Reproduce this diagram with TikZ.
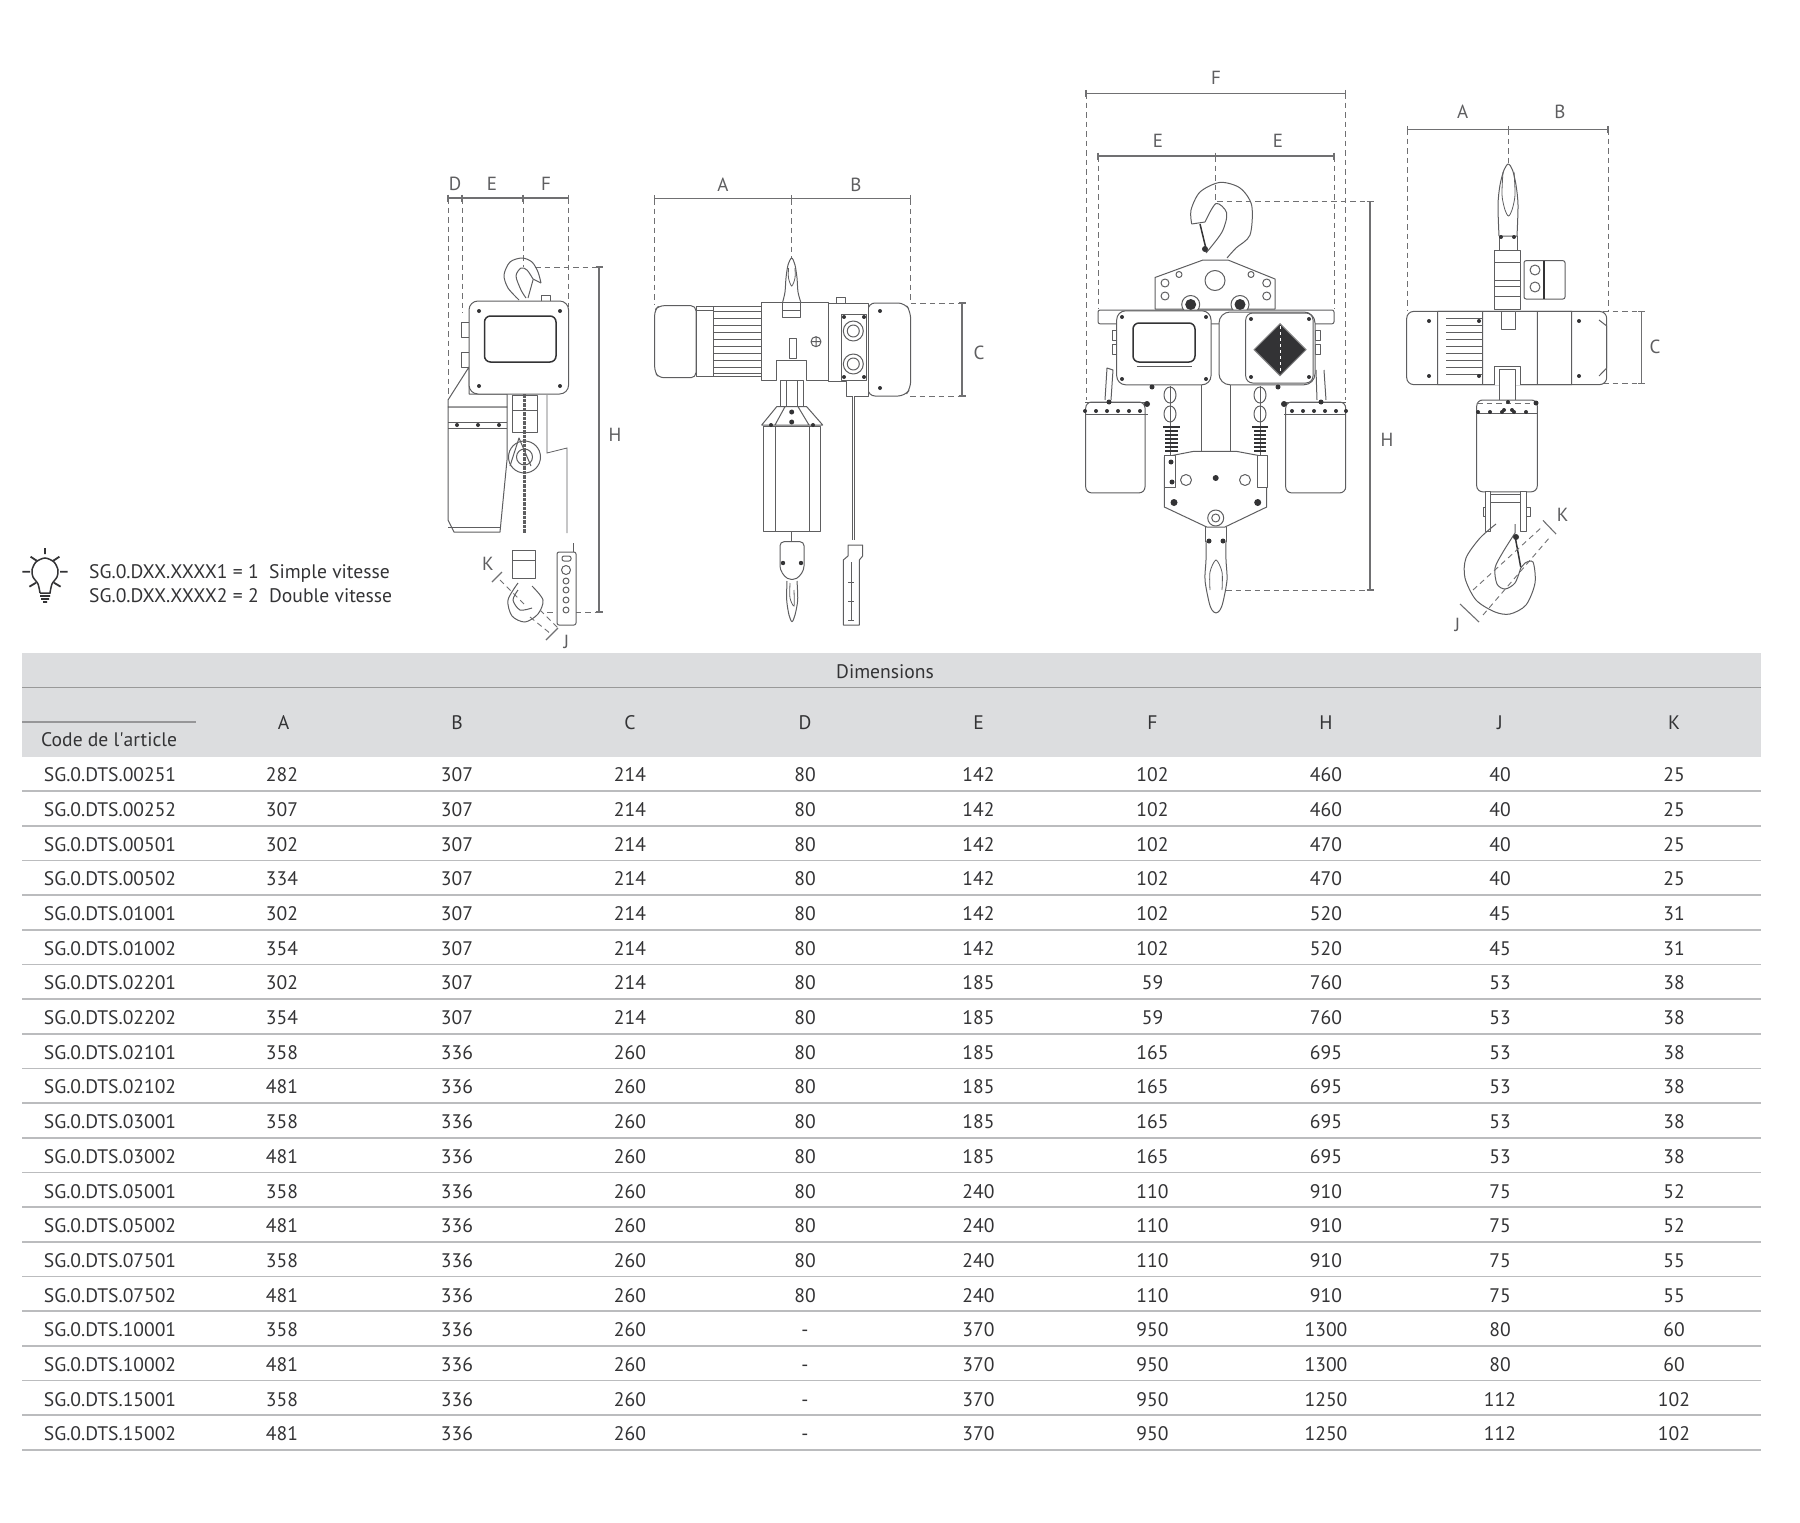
\documentclass[tikz,border=0pt]{standalone}
\usepackage{fontspec}
\setmainfont{PT Sans}
\definecolor{headgray}{HTML}{DCDDDF}
\definecolor{rulegray}{HTML}{BBBCBE}
\definecolor{inkgray}{HTML}{5E5E60}
\definecolor{dimgray}{HTML}{707072}
\definecolor{darkgray}{HTML}{333335}
\tikzset{
    cell/.style={text=darkgray, font=\fontsize{19.6}{23}\selectfont, inner sep=0pt, anchor=center, text height=13.6pt, text depth=0pt},
    codecell/.style={cell, anchor=west},
    dimlabel/.style={text=inkgray, font=\fontsize{19}{22}\selectfont, inner sep=0pt},
    rowrule/.style={draw=rulegray, line width=1.6pt},
    dimrule/.style={draw=dimgray, line width=1.3pt},
    dimdash/.style={draw=dimgray, line width=1pt, dash pattern=on 5.5pt off 4pt},
    hoist/.style={draw=inkgray, line width=1pt, line join=round, fill=white},
    hoistline/.style={draw=inkgray, line width=0.8pt},
    hoistbold/.style={draw=darkgray, line width=1.5pt, line join=round},
    bolt/.style={fill=darkgray}
}
\begin{document}
\begin{tikzpicture}[x=1pt, y=-1pt]
    \useasboundingbox (0,0) rectangle (1800,1523);

    %% header of the table
    \fill[headgray] (22,653) rectangle (1761,757);
    \draw[draw=gray!80, line width=1.2pt] (22,687.5)--(1761,687.5);
    \draw[draw=rulegray!80!black, line width=1.2pt] (22,722)--(196,722);
    \draw[rowrule]
    (22,791)--(1761,791) (22,825.7)--(1761,825.7) (22,860.4)--(1761,860.4) (22,895)--(1761,895)
    (22,929.7)--(1761,929.7) (22,964.4)--(1761,964.4) (22,999.1)--(1761,999.1) (22,1033.8)--(1761,1033.8)
    (22,1068.4)--(1761,1068.4) (22,1103.1)--(1761,1103.1) (22,1137.8)--(1761,1137.8) (22,1172.5)--(1761,1172.5)
    (22,1207.2)--(1761,1207.2) (22,1241.8)--(1761,1241.8) (22,1276.5)--(1761,1276.5) (22,1311.2)--(1761,1311.2)
    (22,1345.9)--(1761,1345.9) (22,1380.6)--(1761,1380.6) (22,1415.2)--(1761,1415.2) (22,1449.9)--(1761,1449.9);

    \path[yshift=1pt]
    (885,672.5)node[cell](dims){Dimensions}
    (41,741)node[codecell](code){Code de l\textquotesingle article}
    (283.5,724)node[cell](hA){A} (457,724)node[cell](hB){B} (630,724)node[cell](hC){C} (805,724)node[cell](hD){D} (978.5,724)node[cell](hE){E} (1152.5,724)node[cell](hF){F} (1326,724)node[cell](hH){H} (1500,724)node[cell](hJ){J} (1674,724)node[cell](hK){K}

    %% rows
    (43.7,776)node[codecell](c1){SG.0.DTS.00251} (282,776)node[cell](a1){282} (457,776)node[cell](b1){307} (630,776)node[cell](d1){214} (805,776)node[cell](e1){80} (978.5,776)node[cell](f1){142} (1152.5,776)node[cell](g1){102} (1326,776)node[cell](h1){460} (1500,776)node[cell](j1){40} (1674,776)node[cell](k1){25}
    (43.7,810.7)node[codecell](c2){SG.0.DTS.00252} (282,810.7)node[cell](a2){307} (457,810.7)node[cell](b2){307} (630,810.7)node[cell](d2){214} (805,810.7)node[cell](e2){80} (978.5,810.7)node[cell](f2){142} (1152.5,810.7)node[cell](g2){102} (1326,810.7)node[cell](h2){460} (1500,810.7)node[cell](j2){40} (1674,810.7)node[cell](k2){25}
    (43.7,845.4)node[codecell](c3){SG.0.DTS.00501} (282,845.4)node[cell](a3){302} (457,845.4)node[cell](b3){307} (630,845.4)node[cell](d3){214} (805,845.4)node[cell](e3){80} (978.5,845.4)node[cell](f3){142} (1152.5,845.4)node[cell](g3){102} (1326,845.4)node[cell](h3){470} (1500,845.4)node[cell](j3){40} (1674,845.4)node[cell](k3){25}
    (43.7,880)node[codecell](c4){SG.0.DTS.00502} (282,880)node[cell](a4){334} (457,880)node[cell](b4){307} (630,880)node[cell](d4){214} (805,880)node[cell](e4){80} (978.5,880)node[cell](f4){142} (1152.5,880)node[cell](g4){102} (1326,880)node[cell](h4){470} (1500,880)node[cell](j4){40} (1674,880)node[cell](k4){25}
    (43.7,914.7)node[codecell](c5){SG.0.DTS.01001} (282,914.7)node[cell](a5){302} (457,914.7)node[cell](b5){307} (630,914.7)node[cell](d5){214} (805,914.7)node[cell](e5){80} (978.5,914.7)node[cell](f5){142} (1152.5,914.7)node[cell](g5){102} (1326,914.7)node[cell](h5){520} (1500,914.7)node[cell](j5){45} (1674,914.7)node[cell](k5){31}
    (43.7,949.4)node[codecell](c6){SG.0.DTS.01002} (282,949.4)node[cell](a6){354} (457,949.4)node[cell](b6){307} (630,949.4)node[cell](d6){214} (805,949.4)node[cell](e6){80} (978.5,949.4)node[cell](f6){142} (1152.5,949.4)node[cell](g6){102} (1326,949.4)node[cell](h6){520} (1500,949.4)node[cell](j6){45} (1674,949.4)node[cell](k6){31}
    (43.7,984.1)node[codecell](c7){SG.0.DTS.02201} (282,984.1)node[cell](a7){302} (457,984.1)node[cell](b7){307} (630,984.1)node[cell](d7){214} (805,984.1)node[cell](e7){80} (978.5,984.1)node[cell](f7){185} (1152.5,984.1)node[cell](g7){59} (1326,984.1)node[cell](h7){760} (1500,984.1)node[cell](j7){53} (1674,984.1)node[cell](k7){38}
    (43.7,1018.8)node[codecell](c8){SG.0.DTS.02202} (282,1018.8)node[cell](a8){354} (457,1018.8)node[cell](b8){307} (630,1018.8)node[cell](d8){214} (805,1018.8)node[cell](e8){80} (978.5,1018.8)node[cell](f8){185} (1152.5,1018.8)node[cell](g8){59} (1326,1018.8)node[cell](h8){760} (1500,1018.8)node[cell](j8){53} (1674,1018.8)node[cell](k8){38}
    (43.7,1053.4)node[codecell](c9){SG.0.DTS.02101} (282,1053.4)node[cell](a9){358} (457,1053.4)node[cell](b9){336} (630,1053.4)node[cell](d9){260} (805,1053.4)node[cell](e9){80} (978.5,1053.4)node[cell](f9){185} (1152.5,1053.4)node[cell](g9){165} (1326,1053.4)node[cell](h9){695} (1500,1053.4)node[cell](j9){53} (1674,1053.4)node[cell](k9){38}
    (43.7,1088.1)node[codecell](c10){SG.0.DTS.02102} (282,1088.1)node[cell](a10){481} (457,1088.1)node[cell](b10){336} (630,1088.1)node[cell](d10){260} (805,1088.1)node[cell](e10){80} (978.5,1088.1)node[cell](f10){185} (1152.5,1088.1)node[cell](g10){165} (1326,1088.1)node[cell](h10){695} (1500,1088.1)node[cell](j10){53} (1674,1088.1)node[cell](k10){38}
    (43.7,1122.8)node[codecell](c11){SG.0.DTS.03001} (282,1122.8)node[cell](a11){358} (457,1122.8)node[cell](b11){336} (630,1122.8)node[cell](d11){260} (805,1122.8)node[cell](e11){80} (978.5,1122.8)node[cell](f11){185} (1152.5,1122.8)node[cell](g11){165} (1326,1122.8)node[cell](h11){695} (1500,1122.8)node[cell](j11){53} (1674,1122.8)node[cell](k11){38}
    (43.7,1157.5)node[codecell](c12){SG.0.DTS.03002} (282,1157.5)node[cell](a12){481} (457,1157.5)node[cell](b12){336} (630,1157.5)node[cell](d12){260} (805,1157.5)node[cell](e12){80} (978.5,1157.5)node[cell](f12){185} (1152.5,1157.5)node[cell](g12){165} (1326,1157.5)node[cell](h12){695} (1500,1157.5)node[cell](j12){53} (1674,1157.5)node[cell](k12){38}
    (43.7,1192.2)node[codecell](c13){SG.0.DTS.05001} (282,1192.2)node[cell](a13){358} (457,1192.2)node[cell](b13){336} (630,1192.2)node[cell](d13){260} (805,1192.2)node[cell](e13){80} (978.5,1192.2)node[cell](f13){240} (1152.5,1192.2)node[cell](g13){110} (1326,1192.2)node[cell](h13){910} (1500,1192.2)node[cell](j13){75} (1674,1192.2)node[cell](k13){52}
    (43.7,1226.8)node[codecell](c14){SG.0.DTS.05002} (282,1226.8)node[cell](a14){481} (457,1226.8)node[cell](b14){336} (630,1226.8)node[cell](d14){260} (805,1226.8)node[cell](e14){80} (978.5,1226.8)node[cell](f14){240} (1152.5,1226.8)node[cell](g14){110} (1326,1226.8)node[cell](h14){910} (1500,1226.8)node[cell](j14){75} (1674,1226.8)node[cell](k14){52}
    (43.7,1261.5)node[codecell](c15){SG.0.DTS.07501} (282,1261.5)node[cell](a15){358} (457,1261.5)node[cell](b15){336} (630,1261.5)node[cell](d15){260} (805,1261.5)node[cell](e15){80} (978.5,1261.5)node[cell](f15){240} (1152.5,1261.5)node[cell](g15){110} (1326,1261.5)node[cell](h15){910} (1500,1261.5)node[cell](j15){75} (1674,1261.5)node[cell](k15){55}
    (43.7,1296.2)node[codecell](c16){SG.0.DTS.07502} (282,1296.2)node[cell](a16){481} (457,1296.2)node[cell](b16){336} (630,1296.2)node[cell](d16){260} (805,1296.2)node[cell](e16){80} (978.5,1296.2)node[cell](f16){240} (1152.5,1296.2)node[cell](g16){110} (1326,1296.2)node[cell](h16){910} (1500,1296.2)node[cell](j16){75} (1674,1296.2)node[cell](k16){55}
    (43.7,1330.9)node[codecell](c17){SG.0.DTS.10001} (282,1330.9)node[cell](a17){358} (457,1330.9)node[cell](b17){336} (630,1330.9)node[cell](d17){260} (805,1330.9)node[cell](e17){-} (978.5,1330.9)node[cell](f17){370} (1152.5,1330.9)node[cell](g17){950} (1326,1330.9)node[cell](h17){1300} (1500,1330.9)node[cell](j17){80} (1674,1330.9)node[cell](k17){60}
    (43.7,1365.6)node[codecell](c18){SG.0.DTS.10002} (282,1365.6)node[cell](a18){481} (457,1365.6)node[cell](b18){336} (630,1365.6)node[cell](d18){260} (805,1365.6)node[cell](e18){-} (978.5,1365.6)node[cell](f18){370} (1152.5,1365.6)node[cell](g18){950} (1326,1365.6)node[cell](h18){1300} (1500,1365.6)node[cell](j18){80} (1674,1365.6)node[cell](k18){60}
    (43.7,1400.2)node[codecell](c19){SG.0.DTS.15001} (282,1400.2)node[cell](a19){358} (457,1400.2)node[cell](b19){336} (630,1400.2)node[cell](d19){260} (805,1400.2)node[cell](e19){-} (978.5,1400.2)node[cell](f19){370} (1152.5,1400.2)node[cell](g19){950} (1326,1400.2)node[cell](h19){1250} (1500,1400.2)node[cell](j19){112} (1674,1400.2)node[cell](k19){102}
    (43.7,1434.9)node[codecell](c20){SG.0.DTS.15002} (282,1434.9)node[cell](a20){481} (457,1434.9)node[cell](b20){336} (630,1434.9)node[cell](d20){260} (805,1434.9)node[cell](e20){-} (978.5,1434.9)node[cell](f20){370} (1152.5,1434.9)node[cell](g20){950} (1326,1434.9)node[cell](h20){1250} (1500,1434.9)node[cell](j20){112} (1674,1434.9)node[cell](k20){102}

    %% legend
    (89,573)node[codecell](legend1){SG.0.DXX.XXXX1 = 1\ \ Simple vitesse}
    (89,597)node[codecell](legend2){SG.0.DXX.XXXX2 = 2\ \ Double vitesse};

    \draw[draw=darkgray, line width=1.5pt] plot[smooth] coordinates {(40,593) (38,584) (33,577) (32,570) (36,562) (45,558) (54,562) (58,570) (57,577) (52,584) (50,593)} -- (40,593);
    \draw[draw=darkgray, line width=1.8pt]
    (40,596)--(50,596) (41,599)--(49,599) (43,602)--(47,602)
    (45,548)--(45,554) (30.6,556.7)--(36.7,560.7) (59.4,556.7)--(53.3,560.7)
    (22.4,571.7)--(30,571.7) (60,571.7)--(67.6,571.7) (29.4,586.7)--(36,582.7) (60.6,586.7)--(54,582.7);

    %% first view, side
    \draw[dimdash] (448,198)--(448,397) (462,198)--(462,313) (523,198)--(523,267) (568.6,198)--(568.6,307) (535,267)--(599,267) (547,612)--(599,612);
    \draw[dimrule] (448,198)--(568.6,198) (448,194.5)--(448,201.5) (462,194.5)--(462,201.5) (523,194.5)--(523,201.5) (568.6,194.5)--(568.6,201.5)
    (599,267)--(599,612) (595.5,267)--(602.5,267) (595.5,612)--(602.5,612);
    \path (455,184)node[dimlabel](vaD){D} (492,184)node[dimlabel](vaE){E} (546,184)node[dimlabel](vaF){F} (615,435)node[dimlabel](vaH){H} (488,564)node[dimlabel](vaK){K} (566.5,642)node[dimlabel](vaJ){J};
    \draw[hoist, fill=none] plot[smooth] coordinates {(519,300) (508,288) (504,275) (510,262) (522,258) (532,262) (538,272) (541,283)};
    \draw[hoist, fill=none] plot[smooth] coordinates {(533,279) (527,270) (521,268) (516,276) (521,290) (526,298)} (541,283)--(533,279) (533,280)--(528,298);
    \draw[hoist] (541,301) rectangle (550,295);
    \draw[hoist] (461,322) rectangle (469,337) (461,352) rectangle (469,367);
    \draw[hoist] (448,400)--(469,367)--(469,394)--(507,394)--(507,407)--(448,407)--cycle;
    \draw[hoist] (448,407)--(507,407)--(507,460)--(500,532)--(454,532)--(448,520)--cycle;
    \draw[hoistline] (448,422)--(507,422) (448,428)--(507,428) (448,527)--(500,527);
    \fill[bolt] (457,425) circle (2pt) (478,425) circle (2pt) (499,425) circle (2pt);
    \draw[hoist, rounded corners=9pt] (469,301) rectangle (568.6,394);
    \draw[hoistbold, rounded corners=6pt] (484.5,316) rectangle (556,362);
    \fill[bolt] (479,311) circle (2pt) (560,311) circle (2pt) (479,386) circle (2pt) (560,386) circle (2pt);
    \draw[hoist] (512,395) rectangle (537,432) (512,410)--(537,410);
    \draw[hoist] (524.5,457) circle (16pt);
    \draw[hoist] (524.5,457) circle (8pt);
    \draw[hoist, fill=none] (510,466)--(519,438)--(531,466);
    \draw[draw=inkgray, line width=3pt, dash pattern=on 3.5pt off 1pt] (524.5,394)--(524.5,533);
    \draw[hoistline] (547,395)--(547,453)--(567,448)--(567,533);
    \draw[hoist] (512,550) rectangle (535.5,578) (512,560)--(535.5,560);
    \draw[hoist, fill=none] plot[smooth] coordinates {(518,583) (508,600) (512,616) (525,622) (538,614) (543,600) (532,586)};
    \draw[hoist, fill=none] plot[smooth] coordinates {(518,590) (513,600) (520,610) (532,608)};
    \draw[hoist, rounded corners=2pt] (557,552) rectangle (576,625) (562,556) rectangle (571,561);
    \draw[hoist] (566,570) circle (4.5pt) (566,581) circle (3pt) (566,590) circle (3pt) (566,600) circle (3pt) (566,610) circle (3pt);
    \draw[hoistline] (573,543)--(573,552);
    \draw[dimdash, line width=0.9pt] (500,580)--(525,605) (530,617)--(551,634) (540,610)--(558,628);
    \draw[dimrule, line width=1.1pt] (492,582)--(502,572) (546,640)--(558,628);

    %% second view, front
    \draw[dimdash] (654.7,199)--(654.7,305) (791.7,199)--(791.7,258) (910.3,199)--(910.3,303)--(962,303) (910,396)--(962,396);
    \draw[dimrule] (654.7,198.7)--(910.3,198.7) (654.7,195.2)--(654.7,202.2) (791.7,195.2)--(791.7,202.2) (910.3,195.2)--(910.3,202.2)
    (962,303)--(962,396) (958.5,303)--(965.5,303) (958.5,396)--(965.5,396);
    \path (723,185)node[dimlabel](vbA){A} (856,185)node[dimlabel](vbB){B} (979,352.5)node[dimlabel](vbC){C};
    \draw[hoist, rounded corners=5pt] (696,305.7)--(659,305.7)--(654.7,310)--(654.7,372)--(659,377.7)--(696,377.7)--cycle;
    \draw[hoist] (696,306.7) rectangle (761.7,376.7) (713,306.7)--(713,376.7) (696,310)--(713,310);
    \draw[hoistline] (714,311)--(761.7,311) (714,318)--(761.7,318) (714,325)--(761.7,325) (714,332)--(761.7,332) (714,339)--(761.7,339) (714,346)--(761.7,346) (714,353)--(761.7,353) (714,360)--(761.7,360) (714,367)--(761.7,367) (714,373)--(761.7,373);
    \draw[hoist] (761.7,302.7)--(828,302.7)--(828,380)--(806.7,380)--(806.7,360)--(776.7,360)--(776.7,380)--(761.7,380)--cycle;
    \draw[hoist] plot[smooth] coordinates {(782.7,302) (785,292) (786,278) (788,265) (791.7,258) (795,265) (797,278) (798,292) (800.7,302)};
    \draw[hoistline] plot[smooth] coordinates {(788.5,268) (788.5,278) (791.7,286) (795,278) (795,268)};
    \draw[hoist] (782.7,302) rectangle (800.7,317) (782.7,310)--(800.7,310);
    \draw[hoist] (816,341.7) circle (5pt) (811,341.7)--(821,341.7) (816,336.7)--(816,346.7);
    \draw[hoist] (789,338) rectangle (796,358);
    \draw[hoist] (836.7,297) rectangle (845.7,303);
    \draw[hoist, rounded corners=7pt] (868,303)--(905,303)--(910.7,312)--(910.7,388)--(905,396)--(868,396)--cycle;
    \draw[hoist] (868,303)--(828,303)--(828,381.7)--(846.7,381.7)--(846.7,396)--(868,396)--cycle;
    \draw[hoist] (841,314) rectangle (866.7,380);
    \draw[hoist] (853.3,331) circle (10pt) (853.3,331) circle (6pt) (853.3,364) circle (10pt) (853.3,364) circle (6pt);
    \fill[bolt] (844,317) circle (2pt) (864,317) circle (2pt) (844,377) circle (2pt) (864,377) circle (2pt) (880,311) circle (2pt) (880,388) circle (2pt);
    \draw[hoistline, double, double distance=1.4pt] (853.3,396)--(853.3,540);
    \draw[hoist] (780,380) rectangle (803,406.7) (786,380)--(786,406.7) (797,380)--(797,406.7);
    \draw[hoist] (776.7,406.7)--(806.7,406.7)--(822.7,425)--(761.7,425)--cycle (785,406.7)--(775,425) (798,406.7)--(809,425);
    \draw[hoist] (763.3,426.7) rectangle (820.7,531.7) (775,426.7)--(775,531.7) (809,426.7)--(809,531.7);
    \fill[bolt] (771,425) circle (2pt) (791.7,412) circle (2.5pt) (791.7,422) circle (2.5pt) (813,425) circle (2pt);
    \draw[hoist] (791.7,531.7)--(791.7,541.7);
    \draw[hoist, rounded corners=4pt] (780,541.7)--(804,541.7)--(804,570)--(797,579.3)--(787,579.3)--(780,570)--cycle;
    \fill[bolt] (783,563) circle (2.2pt) (801,563) circle (2.2pt);
    \draw[hoist] plot[smooth] coordinates {(787,581) (786.7,600) (789,615) (792,621.7) (795,615) (797.7,600) (797,581)};
    \draw[hoistline] plot[smooth] coordinates {(790,583) (790,598) (794,606) (794,590)};
    \draw[hoist] (848,556)--(848,545)--(862.7,545)--(862.7,556)--(859.3,560)--(859.3,625)--(843.3,625)--(843.3,560)--cycle;
    \draw[hoistline] (851,562)--(851,620) (848,582)--(854,582) (848,601)--(854,601) (848,620)--(854,620);

    %% third view, double hoist
    \draw[dimdash] (1086,93)--(1086,400) (1345.3,93)--(1345.3,400) (1098,156)--(1098,309) (1334,156)--(1334,309) (1215.3,156)--(1215.3,201.7)--(1371.7,201.7) (1216.7,590)--(1371.7,590);
    \draw[dimrule] (1086,93.3)--(1345.3,93.3) (1086,89.8)--(1086,96.8) (1345.3,89.8)--(1345.3,96.8)
    (1098,156)--(1334,156) (1098,152.5)--(1098,159.5) (1215.3,152.5)--(1215.3,159.5) (1334,152.5)--(1334,159.5)
    (1370,201.7)--(1370,590) (1366.5,201.7)--(1373.5,201.7) (1366.5,590)--(1373.5,590);
    \path (1216,77.7)node[dimlabel](vcF){F} (1158,140.6)node[dimlabel](vcE){E} (1278,140.6)node[dimlabel](vcEb){E} (1387,440)node[dimlabel](vcH){H};
    \draw[hoist, fill=none] plot[smooth] coordinates {(1191.7,224) (1191,210) (1200,192) (1220,182.4) (1240,188) (1251.7,205.4) (1250,235) (1236,248) (1227,258)};
    \draw[hoist, fill=none] plot[smooth] coordinates {(1206,253) (1222,232) (1226.7,213) (1216,203.5) (1205,222)};
    \draw[hoist, fill=none] (1191.7,224)--(1205,222);
    \draw[hoistbold] (1200,224)--(1206.7,251.6);
    \fill[bolt] (1205,249) circle (3pt);
    \draw[hoist] (1155,277.5)--(1203,260)--(1228,260)--(1275,279)--(1275,309)--(1155,309)--cycle;
    \draw[hoist] (1215,280.5) circle (10pt) (1165,283) circle (4pt) (1165,296) circle (4pt) (1266.7,283) circle (4pt) (1266.7,296) circle (4pt) (1179,274.5) circle (3pt) (1251,274.5) circle (3pt);
    \draw[hoist] (1190.7,304.5) circle (9pt) (1240,304.5) circle (9pt);
    \fill[bolt] (1190.7,304.5) circle (5.5pt) (1240,304.5) circle (5.5pt);
    \draw[hoist, rounded corners=2pt] (1098,310) rectangle (1334,323.8);
    \draw[hoist] (1112,330) rectangle (1117,340) (1112,344) rectangle (1117,354) (1315,330) rectangle (1320,340) (1315,344) rectangle (1320,354);
    \draw[hoist, rounded corners=9pt] (1116.7,310.8) rectangle (1211,384.8);
    \draw[hoistbold, rounded corners=6pt] (1133,323) rectangle (1195,362);
    \draw[hoistline] (1136.7,366.7)--(1191.7,366.7);
    \draw[hoist, rounded corners=11pt] (1219,312) rectangle (1315,384.8);
    \draw[hoist, rounded corners=7pt] (1245.7,313) rectangle (1313,383);
    \draw[draw=darkgray!60, line width=1pt, fill=darkgray] (1280,323.7)--(1306,349.7)--(1280,375.7)--(1254,349.7)--cycle;
    \draw[draw=white, line width=0.8pt, dashed] (1280,326)--(1280,373);
    \fill[bolt] (1122,317) circle (2pt) (1206,317) circle (2pt) (1122,379) circle (2pt) (1206,379) circle (2pt) (1251,319) circle (2pt) (1309,319) circle (2pt) (1251,377) circle (2pt) (1309,377) circle (2pt) (1152,387) circle (2.5pt) (1278,387) circle (2.5pt);
    \draw[hoistline] (1201,384.8)--(1201,451.4) (1230.7,384.8)--(1230.7,451.4);
    %% bags
    \draw[hoist] (1105,400)--(1107,368)--(1113,370)--(1111,400) (1317,400)--(1316,370) (1324,370)--(1326,400);
    \draw[hoist, rounded corners=6pt] (1085.7,402)--(1145,402)--(1145,492.9)--(1085.7,492.9)--cycle;
    \draw[hoist, rounded corners=6pt] (1285.7,402)--(1345.7,402)--(1345.7,492.9)--(1285.7,492.9)--cycle;
    \draw[hoistline] (1085,414)--(1148,414) (1284,414)--(1346,414) (1085,402)--(1148,402) (1284,402)--(1346,402);
    \fill[bolt] (1085,411) circle (2pt) (1096,411) circle (2pt) (1107,411) circle (2pt) (1118,411) circle (2pt) (1129,411) circle (2pt) (1140,411) circle (2pt) (1147,404) circle (3pt) (1109,402) circle (2.5pt)
    (1292,411) circle (2pt) (1303,411) circle (2pt) (1314,411) circle (2pt) (1325,411) circle (2pt) (1336,411) circle (2pt) (1346,411) circle (2pt) (1284,404) circle (3pt) (1321,402) circle (2.5pt);
    %% chains and springs
    \draw[hoist] (1170,395) ellipse (6pt and 8pt) (1170,414) ellipse (6pt and 8pt) (1260,395) ellipse (6pt and 8pt) (1260,414) ellipse (6pt and 8pt);
    \draw[hoistline] (1170,386)--(1170,455) (1260,386)--(1260,455);
    \draw[draw=darkgray, line width=1.1pt]
    (1163,427)--(1180,427) (1165,431)--(1178,431) (1165,435)--(1178,435) (1165,439)--(1178,439) (1165,443)--(1178,443) (1165,447)--(1178,447) (1165,451)--(1178,451)
    (1252,427)--(1268,427) (1254,431)--(1266,431) (1254,435)--(1266,435) (1254,439)--(1266,439) (1254,443)--(1266,443) (1254,447)--(1266,447) (1254,451)--(1266,451);
    \draw[hoist] (1205,527)--(1205,542) (1226.7,527)--(1226.7,542);
    \draw[hoist] (1164.3,457)--(1193.3,451.4)--(1236.7,451.4)--(1266.7,457)--(1266.7,507)--(1225,527)--(1206.7,527)--(1164.3,507)--cycle;
    \draw[hoist] (1164.3,455) rectangle (1175,487) (1257,455) rectangle (1267,487);
    \draw[hoist] (1186,480) circle (5.5pt) (1245,480) circle (5.5pt) (1215.7,518) circle (8pt) (1215.7,518) circle (4pt);
    \fill[bolt] (1215.7,478) circle (3pt) (1174,502.5) circle (3.5pt) (1257.7,502.5) circle (3.5pt) (1171,462) circle (2.5pt) (1172,482) circle (2.5pt);
    \draw[hoist] plot[smooth] coordinates {(1206,541) (1206,560) (1205,580) (1209,602) (1212,610) (1216,613) (1220,610) (1223,602) (1227,580) (1226,560) (1226,541)};
    \draw[hoistline] plot[smooth] coordinates {(1210,590) (1210,572) (1216,560) (1222,572) (1222,590)};
    \fill[bolt] (1209,541) circle (2.5pt) (1223,541) circle (2.5pt);

    %% fourth view, lateral
    \draw[dimdash] (1407.7,129)--(1407.7,311) (1508.3,129)--(1508.3,164) (1608,129)--(1608,311) (1603,311.4)--(1641.7,311.4) (1603,383.6)--(1641.7,383.6);
    \draw[dimrule] (1407.7,129.3)--(1608,129.3) (1407.7,125.8)--(1407.7,132.8) (1508.3,125.8)--(1508.3,132.8) (1608,125.8)--(1608,132.8)
    (1641.7,311.4)--(1641.7,383.6) (1638.2,311.4)--(1645.2,311.4) (1638.2,383.6)--(1645.2,383.6);
    \path (1462.7,112)node[dimlabel](vdA){A} (1560,112)node[dimlabel](vdB){B} (1655,346.4)node[dimlabel](vdC){C} (1562.7,515)node[dimlabel](vdK){K} (1457.3,624.6)node[dimlabel](vdJ){J};
    \draw[hoist] plot[smooth] coordinates {(1499,236) (1498,205) (1500,185) (1504,170) (1508.3,164) (1512.5,170) (1516,185) (1518,205) (1517,236)} -- cycle;
    \draw[hoistline] plot[smooth] coordinates {(1503,172) (1502,195) (1505,210) (1508.5,216) (1512,210) (1515,195) (1514,172)};
    \draw[hoist] (1494,250.7) rectangle (1520.7,309.6) (1499,236)--(1499,251) (1517,236)--(1517,251);
    \draw[hoist] (1494,262) rectangle (1520.7,280) (1494,286) rectangle (1520.7,296);
    \fill[bolt] (1501,237) circle (2pt) (1514,237) circle (2pt);
    \draw[hoist, rounded corners=2pt] (1524,260.7) rectangle (1565,299);
    \draw[hoistbold] (1544,260.7)--(1544,299);
    \draw[hoist] (1535,270) circle (5pt) (1535,287) circle (5pt);
    \draw[hoist, rounded corners=7pt] (1406.7,311.4) rectangle (1606.7,384.6);
    \draw[hoist] (1437.7,311.4) rectangle (1482.7,384.6) (1482.7,311.4) rectangle (1537.3,384.6) (1537.3,311.4) rectangle (1571.7,384.6) (1599,320)--(1606.7,326)--(1606.7,368)--(1599,376);
    \draw[hoistline] (1446,318)--(1482,318) (1446,325)--(1482,325) (1446,332)--(1482,332) (1446,339)--(1482,339) (1446,346)--(1482,346) (1446,353)--(1482,353) (1446,360)--(1482,360) (1446,367)--(1482,367) (1446,374)--(1482,374);
    \fill[bolt] (1429,321) circle (2pt) (1429,376) circle (2pt) (1479,321) circle (2pt) (1479,376) circle (2pt) (1579,321) circle (2pt) (1579,376) circle (2pt);
    \draw[hoist] (1501,311.4) rectangle (1515.7,329);
    \draw[hoist] (1494,384.6)--(1494,366.8)--(1520.7,366.8)--(1520.7,384.6);
    \draw[hoist] (1499.3,369) rectangle (1515,402);
    \draw[hoist, rounded corners=6pt] (1476.7,400)--(1537.3,400)--(1537.3,491.8)--(1476.7,491.8)--cycle;
    \draw[hoistline] (1476.7,413)--(1537.3,413);
    \draw[dimdash, line width=0.9pt] (1477,403.5)--(1537,403.5);
    \fill[bolt] (1478,412) circle (2pt) (1490,412) circle (2pt) (1502,412) circle (2pt) (1514,412) circle (2pt) (1526,412) circle (2pt) (1536,403) circle (2.5pt) (1508,402) circle (2pt) (1504,410) circle (2pt) (1512,410) circle (2pt);
    \draw[hoist] (1485,491.8) rectangle (1490.7,531) (1520,491.8) rectangle (1526,531);
    \draw[hoist] (1490.7,494)--(1520,494) (1490.7,502.5)--(1520,502.5);
    \draw[hoist] (1483,507) rectangle (1485,516) (1526,507) rectangle (1530,516);
    \draw[hoist, fill=none] plot[smooth] coordinates {(1496,524) (1480,538) (1466,558) (1465,578) (1476,600) (1495,612) (1510,614) (1526,605) (1535,583) (1533,562) (1525,563)};
    \draw[hoist, fill=none] plot[smooth] coordinates {(1515,533) (1503,552) (1495,568) (1497,584) (1505,589) (1515,583) (1520.7,568)};
    \draw[hoist, fill=none] (1515,524)--(1515,533) (1525,563)--(1520.7,568);
    \draw[hoistbold] (1515,536)--(1520.7,567);
    \fill[bolt] (1516,537) circle (3pt);
    \draw[dimdash, line width=0.9pt] (1473,590)--(1542,527) (1483,615)--(1550,537);
    \draw[dimrule, line width=1.1pt] (1460,604)--(1479,622) (1543,520.4)--(1556,534);
\end{tikzpicture}
\end{document}
